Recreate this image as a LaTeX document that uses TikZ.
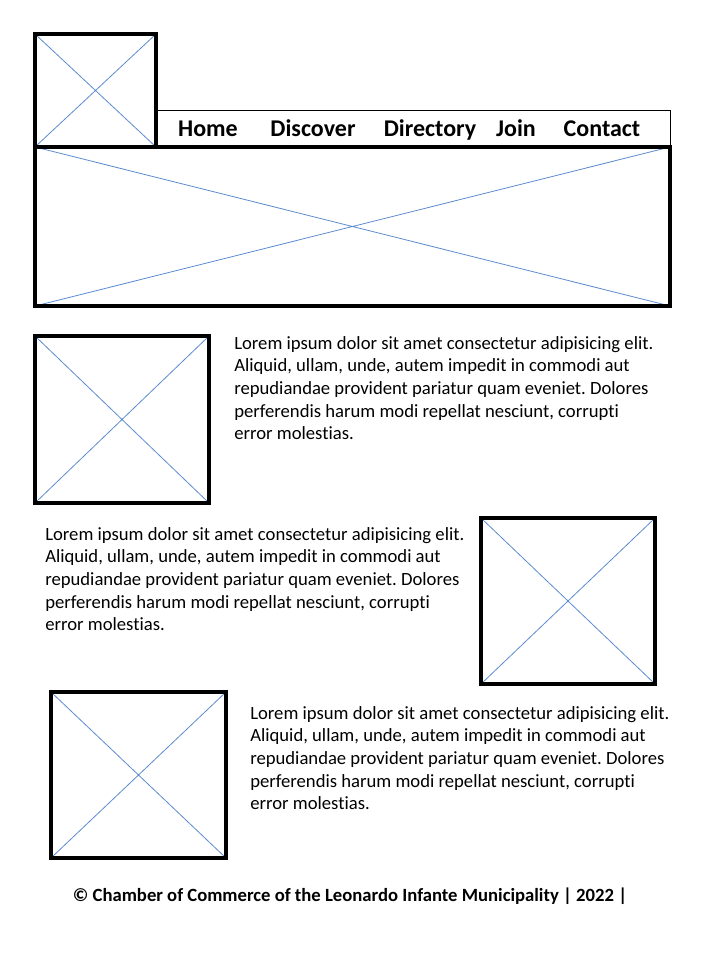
\documentclass[tikz,border=0pt]{standalone}
\usepackage{fontspec}
\setmainfont{Carlito}[RawFeature={-liga}]
\usepackage{xcolor}
\usetikzlibrary{positioning}
\definecolor{crossblue}{RGB}{91,139,206}
\frenchspacing

\begin{document}
\begin{tikzpicture}[x=0.75pt,y=-0.75pt,
    frame/.style={draw=black, line width=2.6pt},
    cross/.style={draw=crossblue, line width=0.6pt},
    navitem/.style={font=\fontsize{18}{21}\selectfont\bfseries, inner sep=0pt, anchor=base},
    body/.style={font=\fontsize{14}{17}\selectfont, align=left, inner sep=0pt, anchor=north west}]
    % Page
    \useasboundingbox (0,0) rectangle (720,960);

    % Logo
    \draw[cross] (35,34) -- (156,147) (35,147) -- (156,34);
    \draw[frame] (35,34) rectangle (156,147);

    % Navigation bar
    \draw[line width=0.75pt] (156,110) rectangle (670,147);
    \node[navitem] (home) at (208,136) {Home};
    \node[navitem] (discover) at (313,136) {Discover};
    \node[navitem] (directory) at (430,136) {Directory};
    \node[navitem] (join) at (516,136) {Join};
    \node[navitem] (contact) at (602,136) {Contact};

    % Hero
    \draw[cross] (35,147) -- (670,306) (35,306) -- (670,147);
    \draw[frame] (35,147) rectangle (670,306);

    % First row
    \draw[cross] (35,336) -- (209,503) (35,503) -- (209,336);
    \draw[frame] (35,336) rectangle (209,503);
    \node[body] (text1) at (234,336) {Lorem ipsum dolor sit amet consectetur adipisicing elit.\\
        Aliquid, ullam, unde, autem impedit in commodi aut\\
        repudiandae provident pariatur quam eveniet. Dolores\\
        perferendis harum modi repellat nesciunt, corrupti\\
        error molestias.};

    % Second row
    \node[body] (text2) at (45,527) {Lorem ipsum dolor sit amet consectetur adipisicing elit.\\
        Aliquid, ullam, unde, autem impedit in commodi aut\\
        repudiandae provident pariatur quam eveniet. Dolores\\
        perferendis harum modi repellat nesciunt, corrupti\\
        error molestias.};
    \draw[cross] (481,518) -- (655,684) (481,684) -- (655,518);
    \draw[frame] (481,518) rectangle (655,684);

    % Third row
    \draw[cross] (51,692) -- (226,858) (51,858) -- (226,692);
    \draw[frame] (51,692) rectangle (226,858);
    \node[body] (text3) at (250,706) {Lorem ipsum dolor sit amet consectetur adipisicing elit.\\
        Aliquid, ullam, unde, autem impedit in commodi aut\\
        repudiandae provident pariatur quam eveniet. Dolores\\
        perferendis harum modi repellat nesciunt, corrupti\\
        error molestias.};

    % Footer
    \node[font=\fontsize{14}{17}\selectfont\bfseries, inner sep=0pt, anchor=base] (footer) at (350,901)
        {© Chamber of Commerce of the Leonardo Infante Municipality | 2022 |};
\end{tikzpicture}
\end{document}
